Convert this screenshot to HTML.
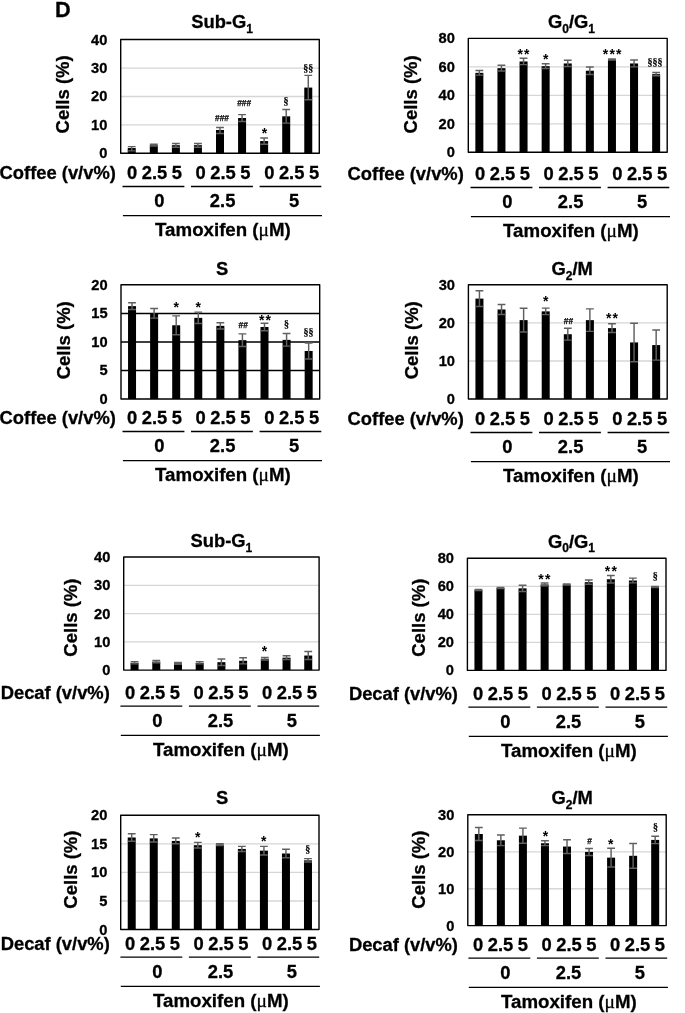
<!DOCTYPE html>
<html lang="en"><head><meta charset="utf-8"><title>Figure D</title>
<style>
html,body{margin:0;padding:0;background:#fff;}
svg{display:block;will-change:transform;}
text{font-family:"Liberation Sans", sans-serif;font-weight:bold;fill:#000;stroke:#000;stroke-width:0.3px;}
.t18{font-size:18.35px;}
.t14{font-size:14.67px;}
.sub{font-size:12px;}
.hash{font-size:9.8px;stroke:#000;stroke-width:0.25;}
.ast{font-size:14px;letter-spacing:1.2px;stroke:none;}
.sec{font-family:"Liberation Serif", serif;font-size:10px;font-weight:bold;stroke:#000;stroke-width:0.2;}
.mu{font-family:"Liberation Serif", serif;font-weight:normal;font-size:19.5px;stroke:#000;stroke-width:0.3;}
.ln{stroke:#000;stroke-width:1.4;fill:none;stroke-linejoin:round;}
.eb{stroke:#606060;stroke-width:1.45;fill:none;}
</style></head><body>
<svg width="685" height="1013" viewBox="0 0 685 1013">
<rect width="685" height="1013" fill="#fff"/>
<text x="54.9" y="17.4" style="font-size:21.7px">D</text>
<g id="p1">
<line x1="120.7" y1="124.95" x2="319.3" y2="124.95" stroke="#d6d6d6" stroke-width="1.3"/>
<line x1="120.7" y1="96.5" x2="319.3" y2="96.5" stroke="#d6d6d6" stroke-width="1.3"/>
<line x1="120.7" y1="68.05" x2="319.3" y2="68.05" stroke="#d6d6d6" stroke-width="1.3"/>
<rect x="127.73" y="148.04" width="8" height="5.26" fill="#000"/>
<path class="eb" d="M131.73 146.61V150.88M127.83 146.61H135.63M127.83 150.88H135.63"/>
<rect x="149.8" y="145.19" width="8" height="8.11" fill="#000"/>
<path class="eb" d="M153.8 144.34V146.05M149.9 144.34H157.7M149.9 146.05H157.7"/>
<rect x="171.87" y="145.19" width="8" height="8.11" fill="#000"/>
<path class="eb" d="M175.87 143.48V147.33M171.97 143.48H179.77M171.97 147.33H179.77"/>
<rect x="193.93" y="145.19" width="8" height="8.11" fill="#000"/>
<path class="eb" d="M197.93 143.48V147.33M194.03 143.48H201.83M194.03 147.33H201.83"/>
<rect x="216" y="129.97" width="8" height="23.33" fill="#000"/>
<path class="eb" d="M220 127.41V133.53M216.1 127.41H223.9M216.1 133.53H223.9"/>
<rect x="238.07" y="118.02" width="8" height="35.28" fill="#000"/>
<path class="eb" d="M242.07 114.61V121.44M238.17 114.61H245.97M238.17 121.44H245.97"/>
<rect x="260.13" y="141.07" width="8" height="12.23" fill="#000"/>
<path class="eb" d="M264.13 137.94V144.2M260.23 137.94H268.03M260.23 144.2H268.03"/>
<rect x="282.2" y="116.32" width="8" height="36.98" fill="#000"/>
<path class="eb" d="M286.2 109.49V123.14M282.3 109.49H290.1M282.3 123.14H290.1"/>
<rect x="304.27" y="87.58" width="8" height="65.72" fill="#000"/>
<path class="eb" d="M308.27 75.35V99.81M304.37 75.35H312.17M304.37 99.81H312.17"/>
<rect class="ln" x="120.7" y="39.5" width="198.6" height="113.8"/>
<text class="t14" x="107.3" y="158.3" text-anchor="end">0</text>
<text class="t14" x="107.3" y="129.85" text-anchor="end">10</text>
<text class="t14" x="107.3" y="101.4" text-anchor="end">20</text>
<text class="t14" x="107.3" y="72.95" text-anchor="end">30</text>
<text class="t14" x="107.3" y="44.5" text-anchor="end">40</text>
<text class="t18" style="font-size:18.5px" transform="translate(69.4 94.4) rotate(-90)" text-anchor="middle">Cells (%)</text>
<text class="t18" x="191.2" y="28.4">Sub-G<tspan class="sub" dy="4.7">1</tspan></text>
<text class="hash" x="215.06" y="121" textLength="13.89" lengthAdjust="spacingAndGlyphs">###</text>
<text class="hash" x="237.16" y="106.3" textLength="13.89" lengthAdjust="spacingAndGlyphs">###</text>
<text class="ast" x="265.1" y="138.4" text-anchor="middle">*</text>
<text class="sec" x="286" y="104.2" text-anchor="middle">§</text>
<text class="sec" x="308.3" y="70.9" text-anchor="middle">§§</text>
<text class="t18" x="-0.4" y="178.85">Coffee (v/v%)</text>
<text class="t18" x="127.1" y="178.85" style="word-spacing:-0.6px">0 2.5 5</text>
<text class="t18" x="195.6" y="178.85" style="word-spacing:-0.6px">0 2.5 5</text>
<text class="t18" x="264.2" y="178.85" style="word-spacing:-0.6px">0 2.5 5</text>
<line class="ln" x1="122.5" y1="186.45" x2="184.4" y2="186.45"/>
<line class="ln" x1="191" y1="186.45" x2="252.9" y2="186.45"/>
<line class="ln" x1="259.6" y1="186.45" x2="321.3" y2="186.45"/>
<text class="t18" x="159.4" y="206.6" text-anchor="middle">0</text>
<text class="t18" x="222.6" y="206.6" text-anchor="middle">2.5</text>
<text class="t18" x="294" y="206.6" text-anchor="middle">5</text>
<line class="ln" x1="122.9" y1="215.65" x2="322" y2="215.65"/>
<text class="t18" style="font-size:18.7px" x="155.1" y="236.1">Tamoxifen (<tspan class="mu">μ</tspan>M)</text>
</g>
<g id="p2">
<line x1="468.3" y1="123.93" x2="667.2" y2="123.93" stroke="#d6d6d6" stroke-width="1.3"/>
<line x1="468.3" y1="95.45" x2="667.2" y2="95.45" stroke="#d6d6d6" stroke-width="1.3"/>
<line x1="468.3" y1="66.97" x2="667.2" y2="66.97" stroke="#d6d6d6" stroke-width="1.3"/>
<rect x="475.35" y="72.85" width="8" height="79.45" fill="#000"/>
<path class="eb" d="M479.35 70.58V75.13M475.45 70.58H483.25M475.45 75.13H483.25"/>
<rect x="497.45" y="68.16" width="8" height="84.14" fill="#000"/>
<path class="eb" d="M501.45 65.31V71M497.55 65.31H505.35M497.55 71H505.35"/>
<rect x="519.55" y="61.46" width="8" height="90.84" fill="#000"/>
<path class="eb" d="M523.55 58.33V64.6M519.65 58.33H527.45M519.65 64.6H527.45"/>
<rect x="541.65" y="66.16" width="8" height="86.14" fill="#000"/>
<path class="eb" d="M545.65 63.74V68.58M541.75 63.74H549.55M541.75 68.58H549.55"/>
<rect x="563.75" y="63.46" width="8" height="88.84" fill="#000"/>
<path class="eb" d="M567.75 60.33V66.59M563.85 60.33H571.65M563.85 66.59H571.65"/>
<rect x="585.85" y="70.72" width="8" height="81.58" fill="#000"/>
<path class="eb" d="M589.85 67.02V74.42M585.95 67.02H593.75M585.95 74.42H593.75"/>
<rect x="607.95" y="59.47" width="8" height="92.83" fill="#000"/>
<path class="eb" d="M611.95 59.04V59.9M608.05 59.04H615.85M608.05 59.9H615.85"/>
<rect x="630.05" y="63.46" width="8" height="88.84" fill="#000"/>
<path class="eb" d="M634.05 60.04V66.88M630.15 60.04H637.95M630.15 66.88H637.95"/>
<rect x="652.15" y="74.14" width="8" height="78.16" fill="#000"/>
<path class="eb" d="M656.15 72.43V75.84M652.25 72.43H660.05M652.25 75.84H660.05"/>
<rect class="ln" x="468.3" y="38.4" width="198.9" height="113.9"/>
<text class="t14" x="454.9" y="157.3" text-anchor="end">0</text>
<text class="t14" x="454.9" y="128.83" text-anchor="end">20</text>
<text class="t14" x="454.9" y="100.35" text-anchor="end">40</text>
<text class="t14" x="454.9" y="71.88" text-anchor="end">60</text>
<text class="t14" x="454.9" y="43.4" text-anchor="end">80</text>
<text class="t18" style="font-size:18.5px" transform="translate(417.4 94.4) rotate(-90)" text-anchor="middle">Cells (%)</text>
<text class="t18" x="548" y="28.4">G<tspan class="sub" dy="4.7">0</tspan><tspan dy="-4.7">/G</tspan><tspan class="sub" dy="4.7">1</tspan></text>
<text class="ast" x="524.1" y="59.2" text-anchor="middle">**</text>
<text class="ast" x="546.3" y="64.1" text-anchor="middle">*</text>
<text class="ast" x="612.8" y="59.2" text-anchor="middle">***</text>
<text class="sec" x="654.9" y="65.2" text-anchor="middle">§§§</text>
<text class="t18" x="347.6" y="179.85">Coffee (v/v%)</text>
<text class="t18" x="475.1" y="179.85" style="word-spacing:-0.6px">0 2.5 5</text>
<text class="t18" x="543.6" y="179.85" style="word-spacing:-0.6px">0 2.5 5</text>
<text class="t18" x="612.2" y="179.85" style="word-spacing:-0.6px">0 2.5 5</text>
<line class="ln" x1="470.5" y1="187.45" x2="532.4" y2="187.45"/>
<line class="ln" x1="539" y1="187.45" x2="600.9" y2="187.45"/>
<line class="ln" x1="607.6" y1="187.45" x2="669.3" y2="187.45"/>
<text class="t18" x="507.4" y="207.6" text-anchor="middle">0</text>
<text class="t18" x="570.6" y="207.6" text-anchor="middle">2.5</text>
<text class="t18" x="642" y="207.6" text-anchor="middle">5</text>
<line class="ln" x1="470.9" y1="216.65" x2="670" y2="216.65"/>
<text class="t18" style="font-size:18.7px" x="503.1" y="237.1">Tamoxifen (<tspan class="mu">μ</tspan>M)</text>
</g>
<g id="p3">
<line x1="121" y1="370.53" x2="319.7" y2="370.53" stroke="#000" stroke-width="1.5"/>
<line x1="121" y1="341.95" x2="319.7" y2="341.95" stroke="#000" stroke-width="1.5"/>
<line x1="121" y1="313.38" x2="319.7" y2="313.38" stroke="#000" stroke-width="1.5"/>
<rect x="128.04" y="306.13" width="8" height="92.87" fill="#000"/>
<path class="eb" d="M132.04 302.7V309.56M128.14 302.7H135.94M128.14 309.56H135.94"/>
<rect x="150.12" y="313.27" width="8" height="85.73" fill="#000"/>
<path class="eb" d="M154.12 308.42V318.13M150.22 308.42H158.02M150.22 318.13H158.02"/>
<rect x="172.19" y="325.28" width="8" height="73.72" fill="#000"/>
<path class="eb" d="M176.19 315.85V334.71M172.29 315.85H180.09M172.29 334.71H180.09"/>
<rect x="194.27" y="317.85" width="8" height="81.15" fill="#000"/>
<path class="eb" d="M198.27 312.13V323.56M194.37 312.13H202.17M194.37 323.56H202.17"/>
<rect x="216.35" y="325.85" width="8" height="73.15" fill="#000"/>
<path class="eb" d="M220.35 322.7V328.99M216.45 322.7H224.25M216.45 328.99H224.25"/>
<rect x="238.43" y="340.14" width="8" height="58.86" fill="#000"/>
<path class="eb" d="M242.43 333.85V346.42M238.53 333.85H246.33M238.53 346.42H246.33"/>
<rect x="260.51" y="326.99" width="8" height="72.01" fill="#000"/>
<path class="eb" d="M264.51 323.28V330.71M260.61 323.28H268.41M260.61 330.71H268.41"/>
<rect x="282.58" y="339.85" width="8" height="59.15" fill="#000"/>
<path class="eb" d="M286.58 333.56V346.14M282.68 333.56H290.48M282.68 346.14H290.48"/>
<rect x="304.66" y="350.99" width="8" height="48.01" fill="#000"/>
<path class="eb" d="M308.66 342.99V359M304.76 342.99H312.56M304.76 359H312.56"/>
<rect class="ln" x="121" y="284.7" width="198.7" height="114.3"/>
<text class="t14" x="107.6" y="404" text-anchor="end">0</text>
<text class="t14" x="107.6" y="375.43" text-anchor="end">5</text>
<text class="t14" x="107.6" y="346.85" text-anchor="end">10</text>
<text class="t14" x="107.6" y="318.27" text-anchor="end">15</text>
<text class="t14" x="107.6" y="289.7" text-anchor="end">20</text>
<text class="t18" style="font-size:18.5px" transform="translate(69.9 340.3) rotate(-90)" text-anchor="middle">Cells (%)</text>
<text class="t18" x="216" y="275.1">S</text>
<text class="ast" x="176.8" y="312.3" text-anchor="middle">*</text>
<text class="ast" x="198.9" y="311.9" text-anchor="middle">*</text>
<text class="hash" x="238.57" y="328.2" textLength="9.26" lengthAdjust="spacingAndGlyphs">##</text>
<text class="ast" x="265.6" y="324.6" text-anchor="middle">**</text>
<text class="sec" x="286.6" y="327" text-anchor="middle">§</text>
<text class="sec" x="308.6" y="334.8" text-anchor="middle">§§</text>
<text class="t18" x="-0.4" y="423.85">Coffee (v/v%)</text>
<text class="t18" x="127.1" y="423.85" style="word-spacing:-0.6px">0 2.5 5</text>
<text class="t18" x="195.6" y="423.85" style="word-spacing:-0.6px">0 2.5 5</text>
<text class="t18" x="264.2" y="423.85" style="word-spacing:-0.6px">0 2.5 5</text>
<line class="ln" x1="122.5" y1="431.45" x2="184.4" y2="431.45"/>
<line class="ln" x1="191" y1="431.45" x2="252.9" y2="431.45"/>
<line class="ln" x1="259.6" y1="431.45" x2="321.3" y2="431.45"/>
<text class="t18" x="159.4" y="451.6" text-anchor="middle">0</text>
<text class="t18" x="222.6" y="451.6" text-anchor="middle">2.5</text>
<text class="t18" x="294" y="451.6" text-anchor="middle">5</text>
<line class="ln" x1="122.9" y1="460.65" x2="322" y2="460.65"/>
<text class="t18" style="font-size:18.7px" x="155.1" y="481.1">Tamoxifen (<tspan class="mu">μ</tspan>M)</text>
</g>
<g id="p4">
<line x1="468.4" y1="361" x2="667.2" y2="361" stroke="#d6d6d6" stroke-width="1.3"/>
<line x1="468.4" y1="322.9" x2="667.2" y2="322.9" stroke="#d6d6d6" stroke-width="1.3"/>
<rect x="475.44" y="298.61" width="8" height="100.39" fill="#000"/>
<path class="eb" d="M479.44 290.8V306.42M475.54 290.8H483.34M475.54 306.42H483.34"/>
<rect x="497.53" y="309.46" width="8" height="89.54" fill="#000"/>
<path class="eb" d="M501.53 304.51V314.42M497.63 304.51H505.43M497.63 314.42H505.43"/>
<rect x="519.62" y="320.13" width="8" height="78.87" fill="#000"/>
<path class="eb" d="M523.62 308.32V331.94M519.72 308.32H527.52M519.72 331.94H527.52"/>
<rect x="541.71" y="311.37" width="8" height="87.63" fill="#000"/>
<path class="eb" d="M545.71 308.13V314.61M541.81 308.13H549.61M541.81 314.61H549.61"/>
<rect x="563.8" y="334.23" width="8" height="64.77" fill="#000"/>
<path class="eb" d="M567.8 328.32V340.14M563.9 328.32H571.7M563.9 340.14H571.7"/>
<rect x="585.89" y="320.13" width="8" height="78.87" fill="#000"/>
<path class="eb" d="M589.89 308.89V331.37M585.99 308.89H593.79M585.99 331.37H593.79"/>
<rect x="607.98" y="328.13" width="8" height="70.87" fill="#000"/>
<path class="eb" d="M611.98 323.75V332.52M608.08 323.75H615.88M608.08 332.52H615.88"/>
<rect x="630.07" y="342.42" width="8" height="56.58" fill="#000"/>
<path class="eb" d="M634.07 323.18V361.66M630.17 323.18H637.97M630.17 361.66H637.97"/>
<rect x="652.16" y="345.09" width="8" height="53.91" fill="#000"/>
<path class="eb" d="M656.16 330.04V360.14M652.26 330.04H660.06M652.26 360.14H660.06"/>
<rect class="ln" x="468.4" y="284.7" width="198.8" height="114.3"/>
<text class="t14" x="455" y="404" text-anchor="end">0</text>
<text class="t14" x="455" y="365.9" text-anchor="end">10</text>
<text class="t14" x="455" y="327.8" text-anchor="end">20</text>
<text class="t14" x="455" y="289.7" text-anchor="end">30</text>
<text class="t18" style="font-size:18.5px" transform="translate(417.6 340.3) rotate(-90)" text-anchor="middle">Cells (%)</text>
<text class="t18" x="551.5" y="274.8">G<tspan class="sub" dy="4.7">2</tspan><tspan dy="-4.7">/M</tspan></text>
<text class="ast" x="546.3" y="306.2" text-anchor="middle">*</text>
<text class="hash" x="563.87" y="323.5" textLength="9.26" lengthAdjust="spacingAndGlyphs">##</text>
<text class="ast" x="612.6" y="322.9" text-anchor="middle">**</text>
<text class="t18" x="347.6" y="424.85">Coffee (v/v%)</text>
<text class="t18" x="475.1" y="424.85" style="word-spacing:-0.6px">0 2.5 5</text>
<text class="t18" x="543.6" y="424.85" style="word-spacing:-0.6px">0 2.5 5</text>
<text class="t18" x="612.2" y="424.85" style="word-spacing:-0.6px">0 2.5 5</text>
<line class="ln" x1="470.5" y1="432.45" x2="532.4" y2="432.45"/>
<line class="ln" x1="539" y1="432.45" x2="600.9" y2="432.45"/>
<line class="ln" x1="607.6" y1="432.45" x2="669.3" y2="432.45"/>
<text class="t18" x="507.4" y="452.6" text-anchor="middle">0</text>
<text class="t18" x="570.6" y="452.6" text-anchor="middle">2.5</text>
<text class="t18" x="642" y="452.6" text-anchor="middle">5</text>
<line class="ln" x1="470.9" y1="461.65" x2="670" y2="461.65"/>
<text class="t18" style="font-size:18.7px" x="503.1" y="482.1">Tamoxifen (<tspan class="mu">μ</tspan>M)</text>
</g>
<g id="p5">
<line x1="123.7" y1="641.93" x2="319.1" y2="641.93" stroke="#d6d6d6" stroke-width="1.3"/>
<line x1="123.7" y1="613.65" x2="319.1" y2="613.65" stroke="#d6d6d6" stroke-width="1.3"/>
<line x1="123.7" y1="585.38" x2="319.1" y2="585.38" stroke="#d6d6d6" stroke-width="1.3"/>
<rect x="130.56" y="662.75" width="8" height="7.35" fill="#000"/>
<path class="eb" d="M134.56 661.62V663.88M130.66 661.62H138.46M130.66 663.88H138.46"/>
<rect x="152.27" y="661.62" width="8" height="8.48" fill="#000"/>
<path class="eb" d="M156.27 660.49V662.75M152.37 660.49H160.17M152.37 662.75H160.17"/>
<rect x="173.98" y="663.31" width="8" height="6.79" fill="#000"/>
<path class="eb" d="M177.98 662.47V664.16M174.08 662.47H181.88M174.08 664.16H181.88"/>
<rect x="195.69" y="662.75" width="8" height="7.35" fill="#000"/>
<path class="eb" d="M199.69 661.62V663.88M195.79 661.62H203.59M195.79 663.88H203.59"/>
<rect x="217.4" y="662.18" width="8" height="7.92" fill="#000"/>
<path class="eb" d="M221.4 658.93V665.43M217.5 658.93H225.3M217.5 665.43H225.3"/>
<rect x="239.11" y="660.77" width="8" height="9.33" fill="#000"/>
<path class="eb" d="M243.11 657.66V663.88M239.21 657.66H247.01M239.21 663.88H247.01"/>
<rect x="260.82" y="658.65" width="8" height="11.45" fill="#000"/>
<path class="eb" d="M264.82 657.38V659.92M260.92 657.38H268.72M260.92 659.92H268.72"/>
<rect x="282.53" y="657.66" width="8" height="12.44" fill="#000"/>
<path class="eb" d="M286.53 655.82V659.5M282.63 655.82H290.43M282.63 659.5H290.43"/>
<rect x="304.24" y="655.54" width="8" height="14.56" fill="#000"/>
<path class="eb" d="M308.24 651.58V659.5M304.34 651.58H312.14M304.34 659.5H312.14"/>
<rect class="ln" x="123.7" y="557" width="195.4" height="113.1"/>
<text class="t14" x="110.3" y="675.1" text-anchor="end">0</text>
<text class="t14" x="110.3" y="646.83" text-anchor="end">10</text>
<text class="t14" x="110.3" y="618.55" text-anchor="end">20</text>
<text class="t14" x="110.3" y="590.27" text-anchor="end">30</text>
<text class="t14" x="110.3" y="562" text-anchor="end">40</text>
<text class="t18" style="font-size:18.5px" transform="translate(76.7 617.6) rotate(-90)" text-anchor="middle">Cells (%)</text>
<text class="t18" x="190.5" y="547">Sub-G<tspan class="sub" dy="4.7">1</tspan></text>
<text class="ast" x="265" y="656.3" text-anchor="middle">*</text>
<text class="t18" x="0.7" y="699.45">Decaf (v/v%)</text>
<text class="t18" x="125" y="699.45" style="word-spacing:-0.6px">0 2.5 5</text>
<text class="t18" x="193.5" y="699.45" style="word-spacing:-0.6px">0 2.5 5</text>
<text class="t18" x="262.1" y="699.45" style="word-spacing:-0.6px">0 2.5 5</text>
<line class="ln" x1="120.4" y1="706.15" x2="182.3" y2="706.15"/>
<line class="ln" x1="188.9" y1="706.15" x2="250.8" y2="706.15"/>
<line class="ln" x1="257.5" y1="706.15" x2="319.2" y2="706.15"/>
<text class="t18" x="157.3" y="727.2" text-anchor="middle">0</text>
<text class="t18" x="220.5" y="727.2" text-anchor="middle">2.5</text>
<text class="t18" x="291.9" y="727.2" text-anchor="middle">5</text>
<line class="ln" x1="120.8" y1="735.35" x2="319.9" y2="735.35"/>
<text class="t18" style="font-size:18.7px" x="153" y="756.2">Tamoxifen (<tspan class="mu">μ</tspan>M)</text>
</g>
<g id="p6">
<line x1="467.4" y1="642.45" x2="666" y2="642.45" stroke="#d6d6d6" stroke-width="1.3"/>
<line x1="467.4" y1="614.4" x2="666" y2="614.4" stroke="#d6d6d6" stroke-width="1.3"/>
<line x1="467.4" y1="586.35" x2="666" y2="586.35" stroke="#d6d6d6" stroke-width="1.3"/>
<rect x="474.43" y="590.04" width="8" height="80.36" fill="#000"/>
<path class="eb" d="M478.43 589.55V590.53M474.53 589.55H482.33M474.53 590.53H482.33"/>
<rect x="496.5" y="588.07" width="8" height="82.33" fill="#000"/>
<path class="eb" d="M500.5 587.58V588.56M496.6 587.58H504.4M496.6 588.56H504.4"/>
<rect x="518.57" y="588.35" width="8" height="82.05" fill="#000"/>
<path class="eb" d="M522.57 585.27V591.44M518.67 585.27H526.47M518.67 591.44H526.47"/>
<rect x="540.63" y="584.43" width="8" height="85.97" fill="#000"/>
<path class="eb" d="M544.63 583.02V585.83M540.73 583.02H548.53M540.73 585.83H548.53"/>
<rect x="562.7" y="584.57" width="8" height="85.83" fill="#000"/>
<path class="eb" d="M566.7 584.01V585.13M562.8 584.01H570.6M562.8 585.13H570.6"/>
<rect x="584.77" y="582.18" width="8" height="88.22" fill="#000"/>
<path class="eb" d="M588.77 580.08V584.29M584.87 580.08H592.67M584.87 584.29H592.67"/>
<rect x="606.83" y="579.24" width="8" height="91.16" fill="#000"/>
<path class="eb" d="M610.83 575.45V583.02M606.93 575.45H614.73M606.93 583.02H614.73"/>
<rect x="628.9" y="580.5" width="8" height="89.9" fill="#000"/>
<path class="eb" d="M632.9 578.12V582.88M629 578.12H636.8M629 582.88H636.8"/>
<rect x="650.97" y="586.95" width="8" height="83.45" fill="#000"/>
<path class="eb" d="M654.97 586.46V587.44M651.07 586.46H658.87M651.07 587.44H658.87"/>
<rect class="ln" x="467.4" y="558.2" width="198.6" height="112.2"/>
<text class="t14" x="454" y="675.4" text-anchor="end">0</text>
<text class="t14" x="454" y="647.35" text-anchor="end">20</text>
<text class="t14" x="454" y="619.3" text-anchor="end">40</text>
<text class="t14" x="454" y="591.25" text-anchor="end">60</text>
<text class="t14" x="454" y="563.2" text-anchor="end">80</text>
<text class="t18" style="font-size:18.5px" transform="translate(424.8 617.7) rotate(-90)" text-anchor="middle">Cells (%)</text>
<text class="t18" x="548" y="547.7">G<tspan class="sub" dy="4.7">0</tspan><tspan dy="-4.7">/G</tspan><tspan class="sub" dy="4.7">1</tspan></text>
<text class="ast" x="545" y="583.9" text-anchor="middle">**</text>
<text class="ast" x="611.4" y="575.6" text-anchor="middle">**</text>
<text class="sec" x="655.3" y="578.7" text-anchor="middle">§</text>
<text class="t18" x="348.9" y="700.45">Decaf (v/v%)</text>
<text class="t18" x="473" y="700.45" style="word-spacing:-0.6px">0 2.5 5</text>
<text class="t18" x="541.5" y="700.45" style="word-spacing:-0.6px">0 2.5 5</text>
<text class="t18" x="610.1" y="700.45" style="word-spacing:-0.6px">0 2.5 5</text>
<line class="ln" x1="468.4" y1="707.15" x2="530.3" y2="707.15"/>
<line class="ln" x1="536.9" y1="707.15" x2="598.8" y2="707.15"/>
<line class="ln" x1="605.5" y1="707.15" x2="667.2" y2="707.15"/>
<text class="t18" x="505.3" y="728.2" text-anchor="middle">0</text>
<text class="t18" x="568.5" y="728.2" text-anchor="middle">2.5</text>
<text class="t18" x="639.9" y="728.2" text-anchor="middle">5</text>
<line class="ln" x1="468.8" y1="736.35" x2="667.9" y2="736.35"/>
<text class="t18" style="font-size:18.7px" x="501" y="757.2">Tamoxifen (<tspan class="mu">μ</tspan>M)</text>
</g>
<g id="p7">
<line x1="120.7" y1="901.02" x2="319" y2="901.02" stroke="#d6d6d6" stroke-width="1.3"/>
<line x1="120.7" y1="872.45" x2="319" y2="872.45" stroke="#d6d6d6" stroke-width="1.3"/>
<line x1="120.7" y1="843.88" x2="319" y2="843.88" stroke="#d6d6d6" stroke-width="1.3"/>
<rect x="127.72" y="837.49" width="8" height="92.01" fill="#000"/>
<path class="eb" d="M131.72 833.77V841.2M127.82 833.77H135.62M127.82 841.2H135.62"/>
<rect x="149.75" y="838.35" width="8" height="91.15" fill="#000"/>
<path class="eb" d="M153.75 834.63V842.06M149.85 834.63H157.65M149.85 842.06H157.65"/>
<rect x="171.78" y="840.92" width="8" height="88.58" fill="#000"/>
<path class="eb" d="M175.78 838.06V843.78M171.88 838.06H179.68M171.88 843.78H179.68"/>
<rect x="193.82" y="845.2" width="8" height="84.3" fill="#000"/>
<path class="eb" d="M197.82 842.35V848.06M193.92 842.35H201.72M193.92 848.06H201.72"/>
<rect x="215.85" y="844.63" width="8" height="84.87" fill="#000"/>
<path class="eb" d="M219.85 843.78V845.49M215.95 843.78H223.75M215.95 845.49H223.75"/>
<rect x="237.88" y="848.92" width="8" height="80.58" fill="#000"/>
<path class="eb" d="M241.88 846.35V851.49M237.98 846.35H245.78M237.98 851.49H245.78"/>
<rect x="259.92" y="850.63" width="8" height="78.87" fill="#000"/>
<path class="eb" d="M263.92 846.35V854.92M260.02 846.35H267.82M260.02 854.92H267.82"/>
<rect x="281.95" y="853.49" width="8" height="76.01" fill="#000"/>
<path class="eb" d="M285.95 849.2V857.78M282.05 849.2H289.85M282.05 857.78H289.85"/>
<rect x="303.98" y="860.35" width="8" height="69.15" fill="#000"/>
<path class="eb" d="M307.98 858.63V862.06M304.08 858.63H311.88M304.08 862.06H311.88"/>
<rect class="ln" x="120.7" y="815.2" width="198.3" height="114.3"/>
<text class="t14" x="107.3" y="934.5" text-anchor="end">0</text>
<text class="t14" x="107.3" y="905.92" text-anchor="end">5</text>
<text class="t14" x="107.3" y="877.35" text-anchor="end">10</text>
<text class="t14" x="107.3" y="848.78" text-anchor="end">15</text>
<text class="t14" x="107.3" y="820.2" text-anchor="end">20</text>
<text class="t18" style="font-size:18.5px" transform="translate(77 869.6) rotate(-90)" text-anchor="middle">Cells (%)</text>
<text class="t18" x="216" y="804.1">S</text>
<text class="ast" x="198.3" y="841.5" text-anchor="middle">*</text>
<text class="ast" x="264.4" y="846.1" text-anchor="middle">*</text>
<text class="sec" x="307.7" y="852.1" text-anchor="middle">§</text>
<text class="t18" x="0.7" y="950.45">Decaf (v/v%)</text>
<text class="t18" x="125" y="950.45" style="word-spacing:-0.6px">0 2.5 5</text>
<text class="t18" x="193.5" y="950.45" style="word-spacing:-0.6px">0 2.5 5</text>
<text class="t18" x="262.1" y="950.45" style="word-spacing:-0.6px">0 2.5 5</text>
<line class="ln" x1="120.4" y1="957.15" x2="182.3" y2="957.15"/>
<line class="ln" x1="188.9" y1="957.15" x2="250.8" y2="957.15"/>
<line class="ln" x1="257.5" y1="957.15" x2="319.2" y2="957.15"/>
<text class="t18" x="157.3" y="978.2" text-anchor="middle">0</text>
<text class="t18" x="220.5" y="978.2" text-anchor="middle">2.5</text>
<text class="t18" x="291.9" y="978.2" text-anchor="middle">5</text>
<line class="ln" x1="120.8" y1="986.35" x2="319.9" y2="986.35"/>
<text class="t18" style="font-size:18.7px" x="153" y="1007.2">Tamoxifen (<tspan class="mu">μ</tspan>M)</text>
</g>
<g id="p8">
<line x1="467.8" y1="888.77" x2="666.2" y2="888.77" stroke="#d6d6d6" stroke-width="1.3"/>
<line x1="467.8" y1="851.83" x2="666.2" y2="851.83" stroke="#d6d6d6" stroke-width="1.3"/>
<rect x="474.82" y="834.01" width="8" height="91.59" fill="#000"/>
<path class="eb" d="M478.82 827.54V840.47M474.92 827.54H482.72M474.92 840.47H482.72"/>
<rect x="496.87" y="840.28" width="8" height="85.32" fill="#000"/>
<path class="eb" d="M500.87 834.93V845.64M496.97 834.93H504.77M496.97 845.64H504.77"/>
<rect x="518.91" y="835.67" width="8" height="89.93" fill="#000"/>
<path class="eb" d="M522.91 828.1V843.24M519.01 828.1H526.81M519.01 843.24H526.81"/>
<rect x="540.96" y="843.24" width="8" height="82.36" fill="#000"/>
<path class="eb" d="M544.96 840.84V845.64M541.06 840.84H548.86M541.06 845.64H548.86"/>
<rect x="563" y="846.56" width="8" height="79.04" fill="#000"/>
<path class="eb" d="M567 839.73V853.4M563.1 839.73H570.9M563.1 853.4H570.9"/>
<rect x="585.04" y="851.92" width="8" height="73.68" fill="#000"/>
<path class="eb" d="M589.04 848.41V855.43M585.14 848.41H592.94M585.14 855.43H592.94"/>
<rect x="607.09" y="857.64" width="8" height="67.96" fill="#000"/>
<path class="eb" d="M611.09 848.22V867.06M607.19 848.22H614.99M607.19 867.06H614.99"/>
<rect x="629.13" y="855.8" width="8" height="69.8" fill="#000"/>
<path class="eb" d="M633.13 843.42V868.17M629.23 843.42H637.03M629.23 868.17H637.03"/>
<rect x="651.18" y="839.91" width="8" height="85.69" fill="#000"/>
<path class="eb" d="M655.18 836.22V843.61M651.28 836.22H659.08M651.28 843.61H659.08"/>
<rect class="ln" x="467.8" y="814.8" width="198.4" height="110.8"/>
<text class="t14" x="454.4" y="930.6" text-anchor="end">0</text>
<text class="t14" x="454.4" y="893.67" text-anchor="end">10</text>
<text class="t14" x="454.4" y="856.73" text-anchor="end">20</text>
<text class="t14" x="454.4" y="819.8" text-anchor="end">30</text>
<text class="t18" style="font-size:18.5px" transform="translate(425.1 869.6) rotate(-90)" text-anchor="middle">Cells (%)</text>
<text class="t18" x="551.5" y="804.1">G<tspan class="sub" dy="4.7">2</tspan><tspan dy="-4.7">/M</tspan></text>
<text class="ast" x="546.1" y="841.4" text-anchor="middle">*</text>
<text class="hash" x="587.28" y="844" textLength="4.63" lengthAdjust="spacingAndGlyphs">#</text>
<text class="ast" x="611.4" y="849.1" text-anchor="middle">*</text>
<text class="sec" x="655.4" y="830" text-anchor="middle">§</text>
<text class="t18" x="348.9" y="951.45">Decaf (v/v%)</text>
<text class="t18" x="473" y="951.45" style="word-spacing:-0.6px">0 2.5 5</text>
<text class="t18" x="541.5" y="951.45" style="word-spacing:-0.6px">0 2.5 5</text>
<text class="t18" x="610.1" y="951.45" style="word-spacing:-0.6px">0 2.5 5</text>
<line class="ln" x1="468.4" y1="958.15" x2="530.3" y2="958.15"/>
<line class="ln" x1="536.9" y1="958.15" x2="598.8" y2="958.15"/>
<line class="ln" x1="605.5" y1="958.15" x2="667.2" y2="958.15"/>
<text class="t18" x="505.3" y="979.2" text-anchor="middle">0</text>
<text class="t18" x="568.5" y="979.2" text-anchor="middle">2.5</text>
<text class="t18" x="639.9" y="979.2" text-anchor="middle">5</text>
<line class="ln" x1="468.8" y1="987.35" x2="667.9" y2="987.35"/>
<text class="t18" style="font-size:18.7px" x="501" y="1008.2">Tamoxifen (<tspan class="mu">μ</tspan>M)</text>
</g>
</svg>
</body></html>
